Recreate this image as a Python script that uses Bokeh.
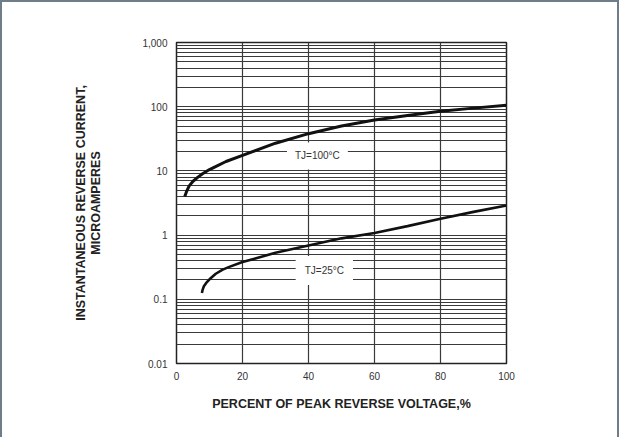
from bokeh.plotting import figure
from bokeh.models import FixedTicker, Label
from bokeh.embed import file_html
from bokeh.resources import INLINE

# Data
x_100c = [2.5, 3.0, 3.8, 5, 6.5, 8, 10, 12, 15, 20, 30, 40, 50, 60, 70, 80, 90, 100]
i_100c = [4.0, 4.7, 5.8, 6.9, 8.0, 9.1, 10.5, 11.8, 14, 17.5, 27, 38, 50, 62, 73, 85, 95, 105]

x_25c = [7.7, 7.9, 8.3, 9, 10, 11.9, 14, 16, 20, 30, 40, 50, 60, 70, 80, 90, 100]
i_25c = [0.125, 0.14, 0.16, 0.18, 0.205, 0.25, 0.29, 0.32, 0.38, 0.53, 0.69, 0.89, 1.08, 1.38, 1.8, 2.3, 2.9]

x_ticks = [0, 20, 40, 60, 80, 100]
y_ticks = [0.01, 0.1, 1, 10, 100, 1000]
y_tick_labels = ["0.01", "0.1", "1", "10", "100", "1,000"]
decades = [0.01, 0.1, 1, 10, 100]
multiples = [2, 3, 4, 5, 6, 7, 8, 9]

p = figure(width=619, height=437, x_range=(0, 100), y_range=(0.01, 1000),
           y_axis_type="log", output_backend="svg", toolbar_location=None,
           min_border_left=174, min_border_right=115, min_border_top=40,
           min_border_bottom=76, background_fill_color="white",
           border_fill_color="white")
p.styles = {"border-left": "2px solid #6f7d88", "border-right": "2px solid #6f7d88",
            "border-top": "2px solid #6f7d88"}

p.outline_line_color = "#222222"
p.outline_line_width = 1.5

p.xaxis.ticker = FixedTicker(ticks=x_ticks)
p.yaxis.ticker = FixedTicker(ticks=y_ticks,
                             minor_ticks=[d * m for d in decades for m in multiples])
p.yaxis.major_label_overrides = {t: l for t, l in zip(y_ticks, y_tick_labels)}

for ax in (p.xaxis, p.yaxis):
    ax.axis_line_color = None
    ax.major_tick_line_color = None
    ax.minor_tick_line_color = None
    ax.major_label_text_font = "Liberation Sans"
    ax.major_label_text_font_size = "10px"
    ax.major_label_text_color = "#333333"
    ax.axis_label_text_font = "Liberation Sans"
    ax.axis_label_text_font_style = "bold"
    ax.axis_label_text_font_size = "12.5px"
    ax.axis_label_text_color = "#222222"

p.xaxis.major_label_standoff = 2
p.yaxis.major_label_standoff = 3
p.xaxis.axis_label = "PERCENT OF PEAK REVERSE VOLTAGE,%"
p.xaxis.axis_label_standoff = 14
p.yaxis.axis_label = "INSTANTANEOUS REVERSE CURRENT,\nMICROAMPERES"
p.yaxis.axis_label_standoff = 36
p.yaxis.axis_label_text_line_height = 1.1

p.xgrid.grid_line_color = "#3a3a3a"
p.xgrid.grid_line_width = 1.2
p.ygrid.grid_line_color = "#3a3a3a"
p.ygrid.grid_line_width = 1.2
p.ygrid.minor_grid_line_color = "#3a3a3a"
p.ygrid.minor_grid_line_width = 1.1

p.line(x_100c, i_100c, line_color="#111111", line_width=3)
p.line(x_25c, i_25c, line_color="#111111", line_width=2.6)

lab100 = Label(x=42.7, y=17.1, text="TJ=100°C", text_align="center",
               text_baseline="middle", text_font="Liberation Sans",
               text_font_size="10px", text_color="#333333",
               background_fill_color="white", padding=8)
lab25 = Label(x=44.8, y=0.28, text="TJ=25°C", text_align="center",
              text_baseline="middle", text_font="Liberation Sans",
              text_font_size="10px", text_color="#333333",
              background_fill_color="white", padding=9)
p.add_layout(lab100)
p.add_layout(lab25)

open("out.html", "w").write(file_html(p, INLINE))
